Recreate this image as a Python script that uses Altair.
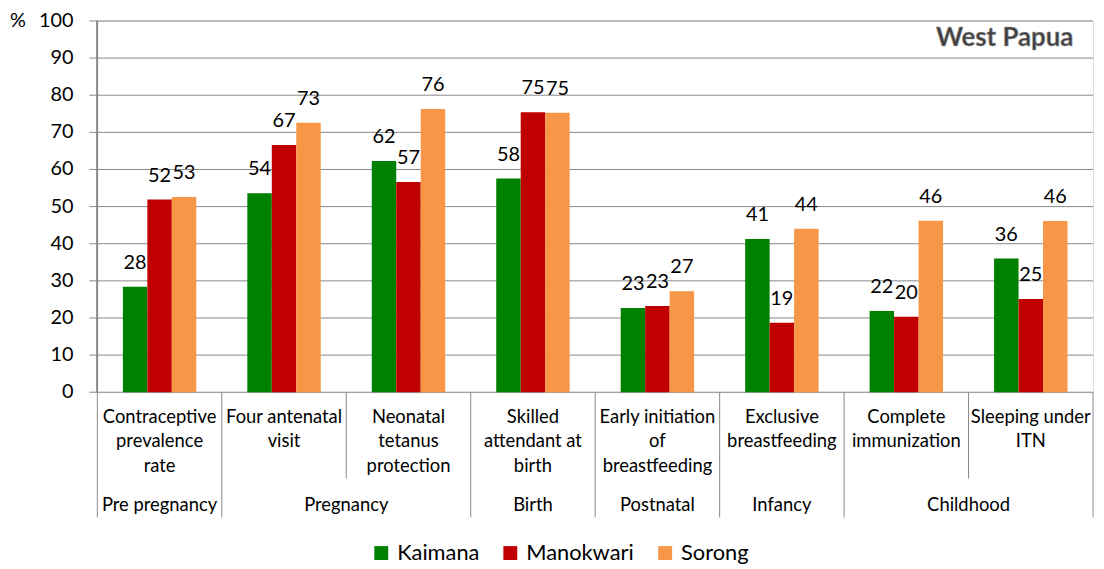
import altair as alt
import pandas as pd

indicator_keys = ["Contraceptive prevalence rate", "Four antenatal visit",
                  "Neonatal tetanus protection", "Skilled attendant at birth",
                  "Early initiation of breastfeeding", "Exclusive breastfeeding",
                  "Complete immunization", "Sleeping under ITN"]
indicator_labels = ["Contraceptive\nprevalence\nrate", "Four antenatal\nvisit",
                    "Neonatal\ntetanus\nprotection", "Skilled\nattendant at\nbirth",
                    "Early initiation\nof\nbreastfeeding", "Exclusive\nbreastfeeding",
                    "Complete\nimmunization", "Sleeping under\nITN"]
stages = ["Pre pregnancy", "Pregnancy", "Pregnancy", "Birth", "Postnatal",
          "Infancy", "Childhood", "Childhood"]
districts = ["Kaimana", "Manokwari", "Sorong"]
colors = ["#008000", "#C00000", "#F79646"]
kaimana = [28.4, 53.6, 62.3, 57.6, 22.7, 41.3, 21.9, 36.0]
manokwari = [51.9, 66.6, 56.6, 75.4, 23.2, 18.7, 20.3, 25.1]
sorong = [52.6, 72.6, 76.3, 75.3, 27.2, 44.0, 46.2, 46.1]
y_ticks = [0, 10, 20, 30, 40, 50, 60, 70, 80, 90, 100]
y_unit = "%"
region_title = "West Papua"

W, H = 1003, 374
GRID = "#888888"
FONT = "Lato"

series = {"Kaimana": kaimana, "Manokwari": manokwari, "Sorong": sorong}
rows = []
for i, key in enumerate(indicator_keys):
    for d in districts:
        rows.append({"ind": key, "district": d, "value": series[d][i]})
bars_df = pd.DataFrame(rows)

labels_df = pd.DataFrame({"ind": indicator_keys, "label": indicator_labels})
ticks_df = pd.DataFrame({"v": y_ticks})

bounds = []
for b in range(len(indicator_keys) + 1):
    long_ = b == 0 or b == len(indicator_keys) or stages[b - 1] != stages[b]
    bounds.append({"pos": b, "kind": "long" if long_ else "short"})
bounds_df = pd.DataFrame(bounds)

groups = []
start = 0
for i in range(1, len(stages) + 1):
    if i == len(stages) or stages[i] != stages[start]:
        groups.append({"stage": stages[start], "center": (start + i) / 2})
        start = i
groups_df = pd.DataFrame(groups)

band_scale = alt.Scale(domain=indicator_keys, paddingInner=0.41, paddingOuter=0.205)
quant_scale = alt.Scale(domain=[0, len(indicator_keys)], nice=False, zero=False)
y_scale = alt.Scale(domain=[0, 100], nice=False)

xband = alt.X("ind:N", scale=band_scale, axis=None, sort=indicator_keys)
xoff = alt.XOffset("district:N", scale=alt.Scale(domain=districts), sort=districts)

# y axis drawn from the tick list
grid = alt.Chart(ticks_df).mark_rule(color=GRID, strokeWidth=1).encode(
    y=alt.Y("v:Q", scale=y_scale, axis=None),
    x=alt.value(0), x2=alt.value(W),
)
tick_marks = alt.Chart(ticks_df).mark_rule(color=GRID, strokeWidth=1).encode(
    y=alt.Y("v:Q", scale=y_scale, axis=None),
    x=alt.value(-8), x2=alt.value(0),
)
tick_labels = alt.Chart(ticks_df).mark_text(fontSize=20, font=FONT, align="right",
                                            baseline="middle", color="#000000").encode(
    y=alt.Y("v:Q", scale=y_scale, axis=None),
    x=alt.value(-24),
    text=alt.Text("v:Q"),
)
y_domain = alt.Chart(ticks_df).mark_rule(color=GRID, strokeWidth=1).encode(
    x=alt.value(0), y=alt.value(0), y2=alt.value(H),
)
unit_df = pd.DataFrame({"u": [y_unit]})
unit_label = alt.Chart(unit_df).mark_text(fontSize=20, font=FONT, align="left",
                                          baseline="middle", color="#000000").encode(
    x=alt.value(-88), y=alt.value(0), text="u:N",
)

bars = alt.Chart(bars_df).mark_bar().encode(
    x=xband,
    xOffset=xoff,
    y=alt.Y("value:Q", scale=y_scale, axis=None),
    color=alt.Color("district:N", scale=alt.Scale(domain=districts, range=colors),
                    legend=alt.Legend(title=None, orient="none", direction="horizontal",
                                      legendX=275, legendY=525, symbolType="square",
                                      symbolSize=196, symbolStrokeWidth=0,
                                      labelFontSize=22, labelFont=FONT, labelColor="#000000",
                                      labelOffset=5, columnPadding=20, padding=0)),
)

values = alt.Chart(bars_df).mark_text(fontSize=20, font=FONT, baseline="alphabetic",
                                      dy=-18, color="#000000").encode(
    x=xband,
    xOffset=xoff,
    y=alt.Y("value:Q", scale=y_scale, axis=None),
    text=alt.Text("value:Q", format=".0f"),
)

cat_labels = alt.Chart(labels_df).mark_text(fontSize=18.5, font=FONT, baseline="alphabetic",
                                            lineBreak="\n", lineHeight=24.5,
                                            color="#000000").encode(
    x=xband,
    y=alt.value(H + 31),
    text="label:N",
)

short_rules = alt.Chart(bounds_df).transform_filter(alt.datum.kind == "short").mark_rule(
    color=GRID, strokeWidth=1).encode(
    x=alt.X("pos:Q", scale=quant_scale, axis=None),
    y=alt.value(H), y2=alt.value(H + 87),
)
long_rules = alt.Chart(bounds_df).transform_filter(alt.datum.kind == "long").mark_rule(
    color=GRID, strokeWidth=1).encode(
    x=alt.X("pos:Q", scale=quant_scale, axis=None),
    y=alt.value(H), y2=alt.value(H + 126),
)
group_labels = alt.Chart(groups_df).mark_text(fontSize=18.5, font=FONT, baseline="alphabetic",
                                              color="#000000").encode(
    x=alt.X("center:Q", scale=quant_scale, axis=None),
    y=alt.value(H + 120),
    text="stage:N",
)

title_df = pd.DataFrame({"t": [region_title]})
title = alt.Chart(title_df).mark_text(fontSize=26, font=FONT, fontWeight="bold",
                                      color="#404040", stroke="#9a9a9a", strokeWidth=0.6,
                                      align="center", baseline="middle").encode(
    x=alt.value(914), y=alt.value(17), text="t:N",
)

chart = alt.layer(grid, tick_marks, tick_labels, y_domain, unit_label,
                  bars, values, cat_labels, short_rules, long_rules, group_labels, title
                  ).resolve_scale(x="independent").properties(
    width=W, height=H,
    padding={"left": 90, "top": 11, "right": 3, "bottom": 175},
    autosize=alt.AutoSizeParams(type="none"),
).configure_view(strokeWidth=0).configure(font=FONT)

chart.save("out.html", embed_options={"renderer": "svg", "actions": False})
